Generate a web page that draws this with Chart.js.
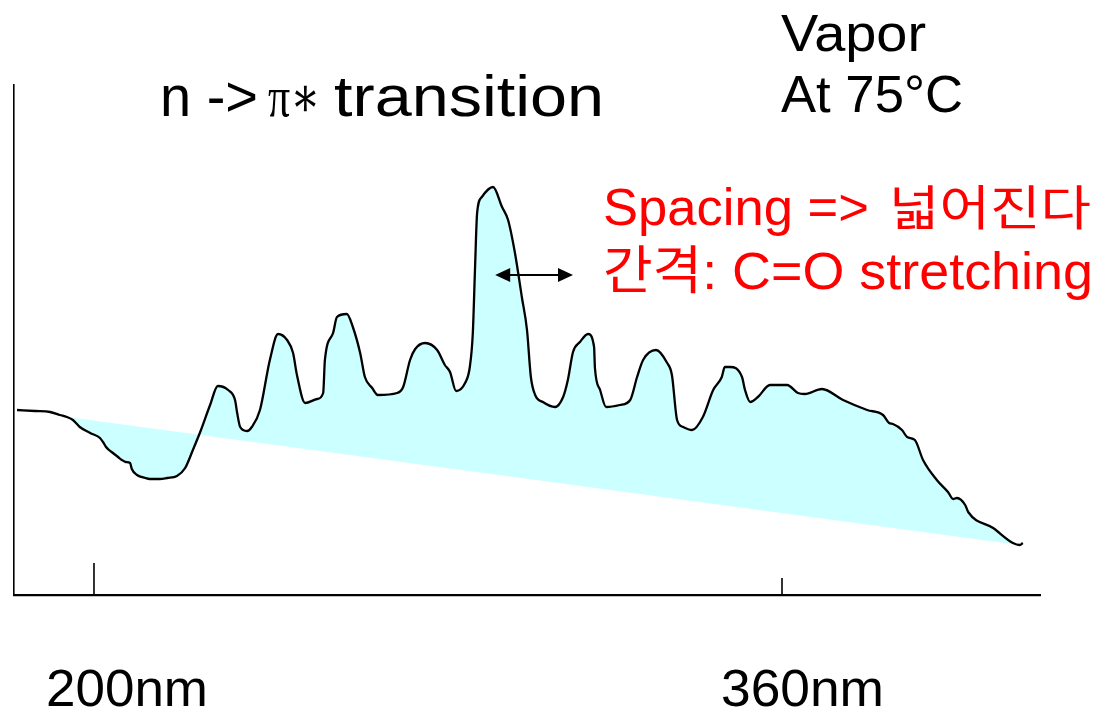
<!DOCTYPE html>
<html><head><meta charset="utf-8">
<script src="https://cdn.jsdelivr.net/npm/chart.js@4/dist/chart.umd.min.js"></script>
<style>html,body{margin:0;padding:0;background:#fff;overflow:hidden}#wrap{width:1102px;height:711px;position:relative}</style>
</head><body><div id="wrap"><canvas id="c" width="1102" height="711"></canvas></div>
<script>
// ---- data (wavelength in nm, absorbance in arbitrary units) ----
const wavelengthNm = [182.1,186.3,189.8,192.1,193.7,195.1,196.7,199.1,201.4,202.1,202.8,203.5,204.4,205.6,206.5,207.4,208.4,208.8,210.0,211.9,213.0,215.3,217.0,219.3,221.2,223.0,224.7,227.0,228.8,231.2,232.8,233.3,234.0,235.6,236.7,238.6,240.9,242.8,244.9,246.3,247.2,249.1,251.9,253.3,253.7,255.6,256.5,258.8,260.2,261.9,263.0,264.7,266.0,270.5,271.9,273.5,274.7,277.0,279.8,281.6,282.8,284.2,286.3,287.4,288.1,288.6,289.1,290.2,292.8,294.9,296.3,297.9,299.5,300.7,301.6,302.6,304.4,307.2,309.1,310.2,311.4,313.0,314.9,316.3,316.5,317.7,319.1,322.3,324.7,326.3,327.7,330.7,333.3,334.4,335.6,337.0,339.1,341.6,344.0,346.0,346.7,347.9,350.7,351.4,352.6,354.4,357.2,361.2,363.7,365.3,369.3,374.2,379.8,383.5,384.9,385.8,387.9,389.1,390.9,392.8,396.0,398.6,399.8,400.7,402.6,403.3,409.1,413.7,415.3,416.0];
const absorbance = [0.370,0.368,0.366,0.360,0.356,0.350,0.336,0.324,0.314,0.306,0.296,0.290,0.284,0.276,0.270,0.266,0.264,0.252,0.240,0.234,0.232,0.232,0.234,0.238,0.254,0.290,0.326,0.380,0.418,0.410,0.390,0.364,0.336,0.328,0.336,0.370,0.470,0.522,0.510,0.484,0.440,0.384,0.392,0.404,0.470,0.524,0.556,0.562,0.536,0.484,0.436,0.414,0.400,0.404,0.416,0.470,0.492,0.504,0.490,0.460,0.446,0.408,0.424,0.456,0.524,0.650,0.764,0.796,0.816,0.776,0.750,0.684,0.596,0.530,0.436,0.400,0.386,0.376,0.396,0.430,0.486,0.506,0.522,0.496,0.454,0.410,0.376,0.380,0.390,0.436,0.470,0.490,0.464,0.440,0.350,0.336,0.330,0.356,0.410,0.436,0.456,0.456,0.436,0.410,0.386,0.396,0.420,0.420,0.404,0.402,0.412,0.390,0.370,0.360,0.344,0.342,0.330,0.316,0.310,0.270,0.230,0.206,0.192,0.194,0.180,0.166,0.134,0.104,0.100,0.104];
const baselineNm = [193.7, 415.3];
const baselineAbs = [0.356, 0.100];
const tickValues = [200, 360];
const tickLabels = ['200nm', '360nm'];
const arrowNm = [293.3, 311.4];
const arrowAbs = 0.64;
const xRange = [181.4, 420.0];
const yRange = [0, 1.02];

const spectrum = wavelengthNm.map((x, i) => ({x, y: absorbance[i]}));
const baseline = baselineNm.map((x, i) => ({x, y: baselineAbs[i]}));

const SANS = '"Liberation Sans", Arial, "Noto Sans CJK KR", sans-serif';
const SANS_KR = '"Liberation Sans", Arial, "Noto Sans CJK KR", sans-serif';
const SERIF = '"Liberation Serif", "DejaVu Serif", serif';

function fitText(ctx, text, x, y, font, color, width) {
  ctx.save();
  ctx.font = font;
  ctx.textAlign = 'left';
  ctx.textBaseline = 'alphabetic';
  const w = ctx.measureText(text).width;
  ctx.translate(x, y);
  ctx.scale(width / w, 1);
  ctx.fillStyle = color;
  ctx.fillText(text, 0, 0);
  ctx.restore();
}

const overlay = {
  id: 'overlay',
  afterDraw(chart) {
    const ctx = chart.ctx, xs = chart.scales.x, ys = chart.scales.y;
    ctx.save();
    // axis tick marks
    const tickLen = [32, 17];
    ctx.strokeStyle = '#000';
    ctx.lineWidth = 1.6;
    tickValues.forEach((v, i) => {
      const px = xs.getPixelForValue(v);
      ctx.beginPath();
      ctx.moveTo(px, ys.bottom);
      ctx.lineTo(px, ys.bottom - tickLen[i]);
      ctx.stroke();
    });
    // tick labels
    const labelOffset = [-48, -61];
    const labelWidth = [162, 163];
    tickValues.forEach((v, i) => {
      const px = xs.getPixelForValue(v);
      fitText(ctx, tickLabels[i], px + labelOffset[i], 706, '52px ' + SANS, '#000', labelWidth[i]);
    });
    // double arrow
    const ax1 = xs.getPixelForValue(arrowNm[0]), ax2 = xs.getPixelForValue(arrowNm[1]);
    const ay = ys.getPixelForValue(arrowAbs);
    ctx.strokeStyle = '#000'; ctx.fillStyle = '#000'; ctx.lineWidth = 2;
    ctx.beginPath(); ctx.moveTo(ax1 + 10, ay); ctx.lineTo(ax2 - 10, ay); ctx.stroke();
    ctx.beginPath(); ctx.moveTo(ax1, ay); ctx.lineTo(ax1 + 15, ay - 7); ctx.lineTo(ax1 + 15, ay + 7); ctx.closePath(); ctx.fill();
    ctx.beginPath(); ctx.moveTo(ax2, ay); ctx.lineTo(ax2 - 15, ay - 7); ctx.lineTo(ax2 - 15, ay + 7); ctx.closePath(); ctx.fill();
    // title
    fitText(ctx, 'n ->', 160, 116, '58px ' + SANS, '#000', 98);
    fitText(ctx, 'π∗', 268, 116, '56px ' + SERIF, '#000', 52);
    fitText(ctx, 'transition', 334, 116, '58px ' + SANS, '#000', 270);
    // condition note
    fitText(ctx, 'Vapor', 781, 51, '52px ' + SANS, '#000', 145);
    fitText(ctx, 'At 75°C', 781, 112, '52px ' + SANS, '#000', 182);
    // red annotation
    fitText(ctx, 'Spacing =>', 603, 225, '52px ' + SANS, '#ff0000', 266);
    fitText(ctx, '넓어진다', 889, 225, '48px "Noto Sans CJK KR"', '#ff0000', 202);
    fitText(ctx, '간격: C=O stretching', 603, 289, '52px ' + SANS_KR, '#ff0000', 490);
    ctx.restore();
  }
};

new Chart(document.getElementById('c'), {
  type: 'line',
  data: {
    datasets: [
      {
        label: 'n -> π* absorption',
        data: spectrum,
        borderColor: '#000',
        borderWidth: 2.3,
        backgroundColor: '#ccffff',
        fill: 1,
        pointRadius: 0,
        cubicInterpolationMode: 'monotone'
      },
      {
        label: 'baseline',
        data: baseline,
        borderColor: 'rgba(0,0,0,0)',
        borderWidth: 0,
        pointRadius: 0,
        fill: false
      }
    ]
  },
  options: {
    responsive: false,
    animation: false,
    devicePixelRatio: 1,
    layout: {padding: {left: 14, right: 62, top: 85, bottom: 116}},
    plugins: {legend: {display: false}, tooltip: {enabled: false}},
    scales: {
      x: {
        type: 'linear', min: xRange[0], max: xRange[1],
        ticks: {display: false},
        grid: {display: false, drawTicks: false},
        border: {display: true, color: '#000', width: 2.2},
        afterFit: s => { s.height = 0; }
      },
      y: {
        type: 'linear', min: yRange[0], max: yRange[1],
        ticks: {display: false},
        grid: {display: false, drawTicks: false},
        border: {display: true, color: '#000', width: 1.6},
        afterFit: s => { s.width = 0; }
      }
    }
  },
  plugins: [overlay]
});
</script>
</body></html>
